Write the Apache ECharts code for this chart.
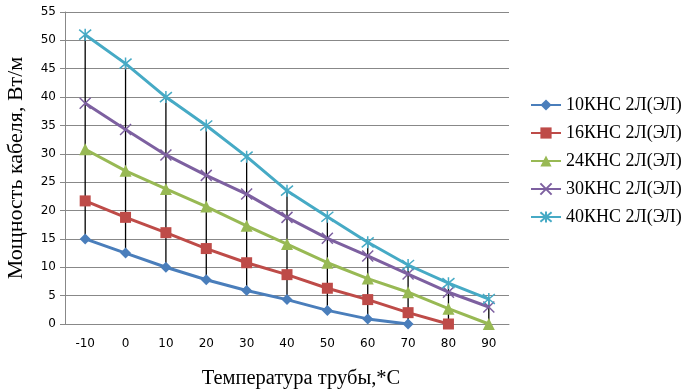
<!DOCTYPE html>
<html><head><meta charset="utf-8">
<script src="https://cdn.jsdelivr.net/npm/echarts@6/dist/echarts.min.js"></script>
<style>html,body{margin:0;padding:0;background:#fff}#c{width:684px;height:390px}</style>
</head><body><div id="c"></div>
<script>
const categories = ['-10','0','10','20','30','40','50','60','70','80','90'];
const s10 = [15.0, 12.5, 10.0, 7.8, 5.9, 4.3, 2.4, 0.9, 0.0, null, null];
const s16 = [21.7, 18.8, 16.1, 13.3, 10.8, 8.7, 6.3, 4.3, 2.0, 0.0, null];
const s24 = [30.8, 27.0, 23.8, 20.7, 17.3, 14.1, 10.8, 8.0, 5.6, 2.7, 0.0];
const s30 = [38.9, 34.3, 29.8, 26.2, 22.9, 18.8, 15.1, 12.0, 8.8, 5.6, 3.0];
const s40 = [51.0, 45.9, 40.0, 35.0, 29.5, 23.5, 18.9, 14.4, 10.4, 7.2, 4.4];
const seriesNames = ['10КНС 2Л(ЭЛ)','16КНС 2Л(ЭЛ)','24КНС 2Л(ЭЛ)','30КНС 2Л(ЭЛ)','40КНС 2Л(ЭЛ)'];
const yTicks = {min: 0, max: 55, interval: 5};

const all = [s10, s16, s24, s30, s40];
const hiLo = categories.map((c, i) => {
  const vals = all.map(a => a[i]).filter(v => v !== null && v !== undefined);
  return [i, Math.min(...vals), Math.max(...vals)];
});

const colors = ['#4a7ebb','#be4b48','#98b954','#7d60a0','#46aac5'];
const symbols = ['diamond','rect','triangle','path://M0,0L10,10M10,0L0,10','path://M0,0L10,10M10,0L0,10M5,-1L5,11'];
const symSizes = [11, 11, 12, 11, 12];

const chart = echarts.init(document.getElementById('c'));
const lineSeries = all.map((d, k) => {
  const stroke = k >= 3;
  return {
    name: seriesNames[k], type: 'line', data: d, z: 3,
    symbol: symbols[k], symbolSize: symSizes[k], showAllSymbol: true,
    lineStyle: {color: colors[k], width: 3},
    itemStyle: stroke ? {color: 'rgba(0,0,0,0)', borderColor: colors[k], borderWidth: 1.5} : {color: colors[k]},
    emphasis: {disabled: true}, animation: false
  };
});

chart.setOption({
  animation: false,
  grid: {left: 65, top: 12, right: 175, bottom: 66, outerBoundsMode: 'none', containLabel: false},
  legend: {
    orient: 'vertical', left: 525, top: 91, itemWidth: 30, itemHeight: 14, itemGap: 10,
    data: seriesNames,
    textStyle: {fontFamily: 'Liberation Serif', fontSize: 18, lineHeight: 16, color: '#000'}
  },
  xAxis: {
    type: 'category', data: categories, boundaryGap: true,
    name: 'Температура трубы,*С', nameLocation: 'middle', nameGap: 44,
    nameTextStyle: {fontFamily: 'Liberation Serif', fontSize: 20.5, color: '#000', padding: [0, 0, 0, 28]},
    axisLine: {lineStyle: {color: '#888'}}, axisTick: {show: false},
    axisLabel: {fontFamily: 'DejaVu Sans', fontSize: 12, color: '#000', margin: 14}
  },
  yAxis: {
    type: 'value', min: yTicks.min, max: yTicks.max, interval: yTicks.interval,
    name: 'Мощность кабеля, Вт/м', nameLocation: 'middle', nameGap: 38,
    nameTextStyle: {fontFamily: 'Liberation Serif', fontSize: 22, color: '#000'},
    axisLine: {show: true, lineStyle: {color: '#888'}},
    axisTick: {show: true, length: 5, lineStyle: {color: '#888'}},
    splitLine: {lineStyle: {color: '#888'}},
    axisLabel: {fontFamily: 'DejaVu Sans', fontSize: 12, color: '#000', margin: 9}
  },
  series: [{
    type: 'custom', z: 2, silent: true, data: hiLo,
    encode: {x: 0, y: [1, 2]},
    renderItem: (params, api) => {
      const p1 = api.coord([api.value(0), api.value(1)]);
      const p2 = api.coord([api.value(0), api.value(2)]);
      return {type: 'line', shape: {x1: p1[0], y1: p1[1], x2: p2[0], y2: p2[1]},
        style: {stroke: '#000', lineWidth: 1.3}};
    }
  }].concat(lineSeries)
});
</script></body></html>
